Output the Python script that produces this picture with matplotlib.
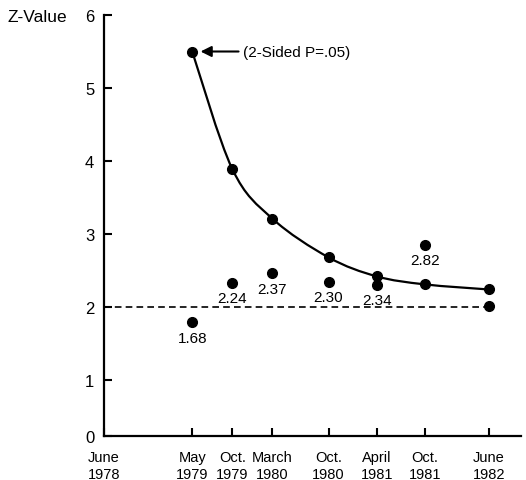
import matplotlib
matplotlib.use('Agg')
import matplotlib.pyplot as plt
from matplotlib.path import Path
from matplotlib.patches import PathPatch
import numpy as np

plt.rcParams['font.family'] = ['Liberation Sans', 'DejaVu Sans']

# survey dates (year, month); x axis counts months from June 1978
tick_dates = [(1978, 6), (1979, 5), (1979, 10), (1980, 3), (1980, 10), (1981, 4), (1981, 10), (1982, 6)]
tick_labels = ['June\n1978', 'May\n1979', 'Oct.\n1979', 'March\n1980', 'Oct.\n1980',
               'April\n1981', 'Oct.\n1981', 'June\n1982']
point_dates = tick_dates[1:]

# boundary (2-sided P=.05) z-values and observed z-values
boundary = [5.5, 3.89, 3.21, 2.68, 2.42, 2.31, 2.24]
observed = [1.79, 2.33, 2.46, 2.34, 2.30, 2.85, 2.01]
obs_labels = ['1.68', '2.24', '2.37', '2.30', '2.34', '2.82', '']
ref_level = 2.0


def months(d):
    return (d[0] - 1978) * 12 + (d[1] - 6)


tick_x = [months(d) for d in tick_dates]
px = np.array([months(d) for d in point_dates], dtype=float)
by = np.array(boundary)

fig = plt.figure(figsize=(5.26, 4.81), dpi=100)
ax = fig.add_axes([104 / 526, 44 / 481, 417 / 526, 421 / 481])

# smooth boundary curve (Catmull-Rom as cubic bezier)
pts = np.column_stack([px, by])
ext = np.vstack([pts[0], pts, pts[-1]])
verts = [tuple(pts[0])]
codes = [Path.MOVETO]
for i in range(len(pts) - 1):
    p0, p1, p2, p3 = ext[i], ext[i + 1], ext[i + 2], ext[i + 3]
    c1 = p1 + (p2 - p0) / 6
    c2 = p2 - (p3 - p1) / 6
    verts += [tuple(c1), tuple(c2), tuple(p2)]
    codes += [Path.CURVE4] * 3
ax.add_patch(PathPatch(Path(verts, codes), fill=False, color='black', lw=1.6))

ax.plot(px, by, 'o', color='black', ms=7)
ax.plot(px, observed, 'o', color='black', ms=7)
ax.plot([0, px[-1]], [ref_level, ref_level], color='black', lw=1.2, dashes=(4, 2.5))

for x, y, lab in zip(px, observed, obs_labels):
    if lab:
        ax.annotate(lab, (x, y), xytext=(0, -11), textcoords='offset points',
                    ha='center', va='center', fontsize=11)

ax.annotate('(2-Sided P=.05)', xy=(px[0], by[0]), xytext=(17.3, by[0]),
            ha='left', va='center', fontsize=11,
            arrowprops=dict(arrowstyle='-|>', color='black', lw=1.5,
                            mutation_scale=16, shrinkA=1, shrinkB=6))

ax.set_xlim(0, 52)
ax.set_ylim(0.233, 6)
ax.set_xticks(tick_x, tick_labels, fontsize=10.5, linespacing=1.25)
ax.set_yticks([0.233, 1, 2, 3, 4, 5, 6], ['0', '1', '2', '3', '4', '5', '6'], fontsize=12)
ax.tick_params(axis='both', direction='in', length=6, width=1.5, color='black')
ax.tick_params(axis='x', pad=10)
ax.tick_params(axis='y', pad=7)
for s in ['top', 'right']:
    ax.spines[s].set_visible(False)
for s in ['left', 'bottom']:
    ax.spines[s].set_linewidth(1.6)

fig.text(8 / 526, 1 - 17 / 481, 'Z-Value', ha='left', va='center', fontsize=12.5)

fig.savefig('out.png', dpi=100)
